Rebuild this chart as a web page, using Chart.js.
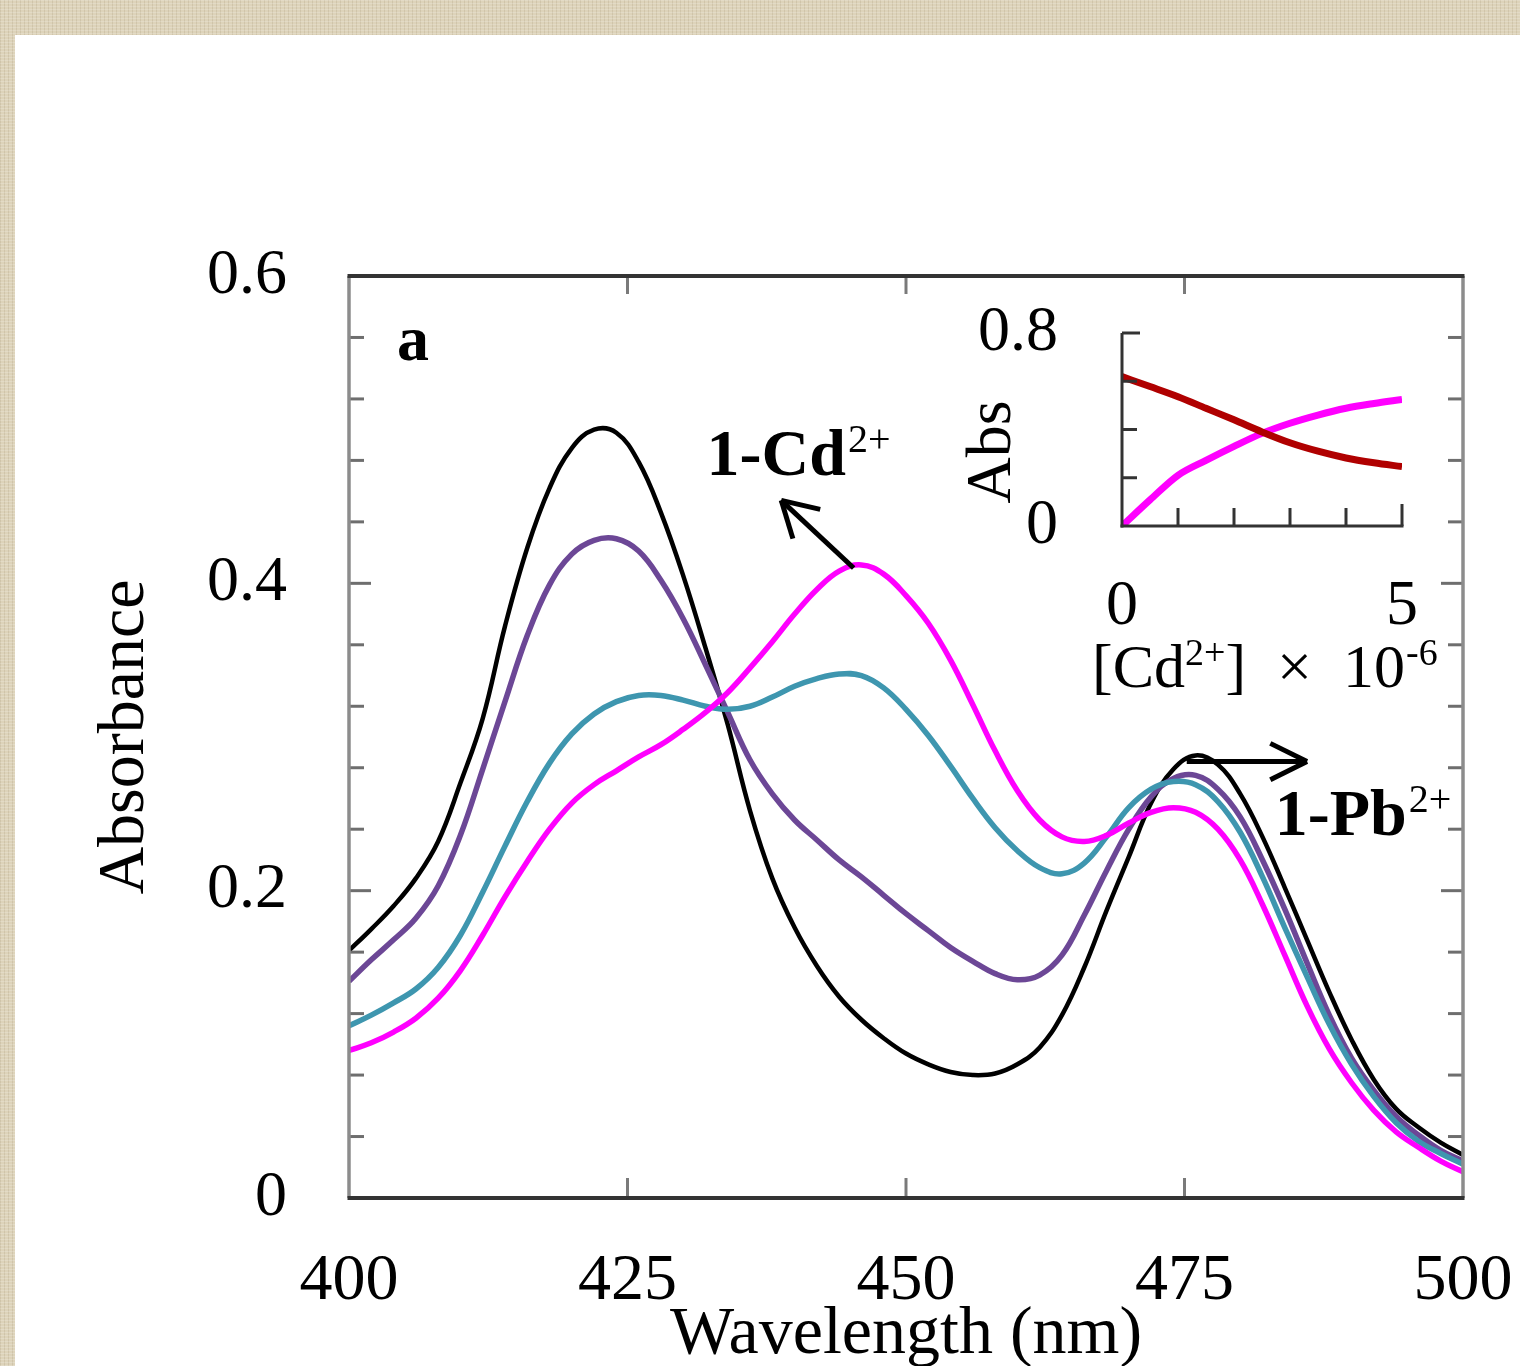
<!DOCTYPE html>
<html>
<head>
<meta charset="utf-8">
<title>Absorbance 1-Cd / 1-Pb</title>
<script src="https://cdn.jsdelivr.net/npm/chart.js@4.4.1/dist/chart.umd.min.js"></script>
<style>
  body {
    margin: 0;
    width: 1520px;
    height: 1366px;
    overflow: hidden;
    position: relative;
    background-color: #ddd3ba;
    background-image:
      repeating-linear-gradient(0deg, rgba(255,255,255,0.18) 0 1px, transparent 1px 3px),
      repeating-linear-gradient(90deg, rgba(120,100,60,0.13) 0 1px, transparent 1px 4px);
  }
  #panel { position: absolute; left: 15px; top: 35px; right: 0; bottom: 0; background: #fff; }
  #main { position: absolute; left: 0; top: 0; }
  #inset { position: absolute; left: 940px; top: 290px; }
</style>
</head>
<body>
<div id="panel"></div>
<canvas id="main" width="1520" height="1400"></canvas>
<canvas id="inset" width="520" height="440"></canvas>
<script>
// DATA - spectra (nm, absorbance)
const wavelength = [400, 402, 404, 406, 408, 410, 412, 414, 416, 418, 420, 422, 424, 426, 428, 430, 432, 434, 436, 438,
  440, 442, 444, 446, 448, 450, 452, 454, 456, 458, 460, 462, 464, 466, 468, 470, 472, 474, 476, 478,
  480, 482, 484, 486, 488, 490, 492, 494, 496, 498, 500];

// free receptor 1 (black)
const absFree = [0.161, 0.175, 0.190, 0.208, 0.232, 0.270, 0.312, 0.372, 0.423, 0.462, 0.488, 0.500, 0.498, 0.479, 0.446, 0.405, 0.358, 0.308, 0.252, 0.208,
  0.176, 0.151, 0.131, 0.116, 0.104, 0.094, 0.087, 0.082, 0.080, 0.081, 0.087, 0.098, 0.119, 0.150, 0.187, 0.222, 0.257, 0.279, 0.288, 0.282,
  0.263, 0.235, 0.202, 0.168, 0.134, 0.103, 0.077, 0.058, 0.046, 0.036, 0.028];
// titration steps
const absStep1 = [0.141, 0.155, 0.168, 0.182, 0.203, 0.236, 0.279, 0.323, 0.366, 0.399, 0.419, 0.428, 0.429, 0.421, 0.402, 0.377, 0.347, 0.316, 0.285, 0.263,
  0.246, 0.233, 0.220, 0.209, 0.197, 0.185, 0.174, 0.163, 0.154, 0.146, 0.142, 0.145, 0.158, 0.184, 0.213, 0.240, 0.261, 0.273, 0.275, 0.266,
  0.248, 0.220, 0.188, 0.153, 0.119, 0.091, 0.070, 0.053, 0.041, 0.031, 0.024];
const absStep2 = [0.112, 0.119, 0.127, 0.136, 0.150, 0.171, 0.199, 0.229, 0.258, 0.283, 0.302, 0.315, 0.323, 0.327, 0.327, 0.324, 0.320, 0.318, 0.320, 0.326,
  0.333, 0.338, 0.341, 0.340, 0.332, 0.318, 0.301, 0.281, 0.260, 0.241, 0.226, 0.215, 0.211, 0.218, 0.235, 0.254, 0.266, 0.271, 0.269, 0.258,
  0.238, 0.209, 0.176, 0.144, 0.113, 0.087, 0.066, 0.049, 0.037, 0.029, 0.022];
// 1-Cd2+ (magenta)
const absCd = [0.096, 0.101, 0.108, 0.117, 0.130, 0.148, 0.171, 0.196, 0.219, 0.240, 0.257, 0.269, 0.278, 0.287, 0.295, 0.305, 0.316, 0.329, 0.345, 0.362,
  0.380, 0.396, 0.408, 0.412, 0.406, 0.392, 0.374, 0.350, 0.321, 0.291, 0.265, 0.246, 0.235, 0.232, 0.236, 0.244, 0.251, 0.254, 0.251, 0.240,
  0.220, 0.191, 0.158, 0.125, 0.097, 0.075, 0.057, 0.043, 0.033, 0.024, 0.017];

const yMajorLabels = ['0', '0.2', '0.4', '0.6'];

// inset: absorbance vs [Cd2+] x 10^-6
const cdConc = [0, 0.5, 1, 1.5, 2, 2.5, 3, 3.5, 4, 4.5, 5];
const insetFall = [0.619, 0.578, 0.536, 0.488, 0.440, 0.390, 0.345, 0.310, 0.282, 0.262, 0.246];
const insetRise = [0.000, 0.108, 0.210, 0.272, 0.330, 0.384, 0.426, 0.460, 0.488, 0.508, 0.525];

const serif = "'Liberation Serif', 'Times New Roman', serif";
Chart.defaults.font.family = serif;
Chart.defaults.color = '#000';

function pts(xs, ys) {
  return xs.map((v, i) => ({ x: v, y: ys[i] }));
}

function line(ctx, x0, y0, x1, y1) {
  ctx.beginPath();
  ctx.moveTo(x0, y0);
  ctx.lineTo(x1, y1);
  ctx.stroke();
}

function arrow(ctx, x0, y0, x1, y1, head, spread) {
  line(ctx, x0, y0, x1, y1);
  const ang = Math.atan2(y1 - y0, x1 - x0);
  [-1, 1].forEach(s => {
    line(ctx, x1, y1, x1 - head * Math.cos(ang + s * spread), y1 - head * Math.sin(ang + s * spread));
  });
}

// text with a superscript tail, e.g. 1-Cd + 2+
function supText(ctx, x, y, base, sup, baseFont, supFont, rise) {
  ctx.font = baseFont;
  ctx.fillText(base, x, y);
  const w = ctx.measureText(base).width;
  ctx.font = supFont;
  ctx.fillText(sup, x + w + 2, y - rise);
}

function isMajor(v) {
  return Math.abs(v * 5 - Math.round(v * 5)) < 1e-6;
}

// pin the scale box size and drop the label overhang padding
function pinWidth(w) {
  return s => { s.width = w; s.paddingTop = 0; s.paddingBottom = 0; s.paddingLeft = 0; s.paddingRight = 0; };
}
function pinHeight(h) {
  return s => { s.height = h; s.paddingTop = 0; s.paddingBottom = 0; s.paddingLeft = 0; s.paddingRight = 0; };
}

// box, inward ticks, labels and arrows for the main panel
const mainDecor = {
  id: 'mainDecor',
  afterDatasetsDraw(chart) {
    const { ctx, chartArea: a, scales: { x, y } } = chart;
    ctx.save();
    ctx.lineCap = 'butt';

    ctx.strokeStyle = '#6e6e6e';
    ctx.lineWidth = 3;
    y.ticks.forEach(t => {
      if (t.value <= 1e-9 || t.value >= 0.6 - 1e-9) return;
      const py = y.getPixelForValue(t.value);
      const len = isMajor(t.value) ? 22 : 15;
      line(ctx, a.left, py, a.left + len, py);
      line(ctx, a.right, py, a.right - len, py);
    });
    ctx.strokeStyle = '#7a7a7a';
    x.ticks.forEach(t => {
      if (t.value <= 400 || t.value >= 500) return;
      const px = x.getPixelForValue(t.value);
      line(ctx, px, a.bottom, px, a.bottom - 20);
      line(ctx, px, a.top, px, a.top + 18);
    });

    ctx.strokeStyle = '#8c8c8c';
    ctx.lineWidth = 3.5;
    line(ctx, a.left, a.top, a.left, a.bottom);
    line(ctx, a.right, a.top, a.right, a.bottom);
    ctx.strokeStyle = '#333';
    ctx.lineWidth = 4;
    line(ctx, a.left - 1.5, a.top, a.right + 1.5, a.top);
    line(ctx, a.left - 1.5, a.bottom, a.right + 1.5, a.bottom);

    // arrows
    ctx.strokeStyle = '#000';
    ctx.lineWidth = 5;
    arrow(ctx, x.getPixelForValue(445.3), y.getPixelForValue(0.410),
      x.getPixelForValue(438.8), y.getPixelForValue(0.454), 40, Math.PI / 6);
    arrow(ctx, x.getPixelForValue(475.2), y.getPixelForValue(0.284),
      x.getPixelForValue(486.0), y.getPixelForValue(0.284), 41, 0.46);

    // labels
    ctx.fillStyle = '#000';
    ctx.textAlign = 'left';
    ctx.textBaseline = 'alphabetic';
    ctx.font = 'bold 64px ' + serif;
    ctx.fillText('a', a.left + 48, a.top + 84);
    supText(ctx, x.getPixelForValue(432.1), y.getPixelForValue(0.4705), '1-Cd', '2+',
      'bold 66px ' + serif, '40px ' + serif, 23);
    supText(ctx, x.getPixelForValue(483.1), y.getPixelForValue(0.2362), '1-Pb', '2+',
      'bold 66px ' + serif, '40px ' + serif, 23);
    ctx.restore();
  }
};

const insetDecor = {
  id: 'insetDecor',
  afterDatasetsDraw(chart) {
    const { ctx, chartArea: a, scales: { x, y } } = chart;
    ctx.save();
    ctx.strokeStyle = '#333';
    ctx.lineWidth = 3;
    line(ctx, a.left, a.top, a.left, a.bottom + 1.5);
    line(ctx, a.left - 1.5, a.bottom, a.right + 1.5, a.bottom);
    y.ticks.forEach(t => {
      if (t.value <= 1e-9) return;
      const py = y.getPixelForValue(t.value);
      line(ctx, a.left, py, a.left + (t.value > 0.79 ? 18 : 15), py);
    });
    x.ticks.forEach(t => {
      if (t.value <= 0) return;
      const px = x.getPixelForValue(t.value);
      line(ctx, px, a.bottom, px, a.bottom - (t.value >= 5 ? 22 : 18));
    });

    ctx.fillStyle = '#000';
    ctx.textBaseline = 'alphabetic';
    // y title
    ctx.save();
    ctx.translate(a.left - 112, a.top + 119);
    ctx.rotate(-Math.PI / 2);
    ctx.textAlign = 'center';
    ctx.font = '64px ' + serif;
    ctx.fillText('Abs', 0, 0);
    ctx.restore();

    // x title: [Cd2+] x 10-6
    ctx.textAlign = 'left';
    const bx = a.left - 30, by = a.bottom + 161;
    const big = '62px ' + serif, small = '38px ' + serif;
    ctx.font = big;
    ctx.fillText('[Cd', bx, by);
    let cx = bx + ctx.measureText('[Cd').width;
    ctx.font = small;
    ctx.fillText('2+', cx, by - 22);
    cx += ctx.measureText('2+').width;
    ctx.font = big;
    ctx.fillText(']  \u00d7  10', cx, by);
    cx += ctx.measureText(']  \u00d7  10').width;
    ctx.font = small;
    ctx.fillText('-6', cx + 1, by - 22);
    ctx.restore();
  }
};

new Chart(document.getElementById('main'), {
  type: 'line',
  data: {
    datasets: [
      { label: '1', data: pts(wavelength, absFree), borderColor: '#000000', borderWidth: 4.5, order: 4 },
      { label: 'step 1', data: pts(wavelength, absStep1), borderColor: '#6c4796', borderWidth: 5.5, order: 3 },
      { label: 'step 2', data: pts(wavelength, absStep2), borderColor: '#3e96af', borderWidth: 5.5, order: 2 },
      { label: '1-Cd2+', data: pts(wavelength, absCd), borderColor: '#ff00ff', borderWidth: 5.5, order: 1 }
    ]
  },
  options: {
    responsive: false,
    animation: false,
    layout: { padding: { left: 0, top: 276, right: 57, bottom: 0 } },
    elements: {
      point: { radius: 0 },
      line: { tension: 0.4, fill: false }
    },
    plugins: { legend: { display: false }, tooltip: { enabled: false } },
    scales: {
      x: {
        type: 'linear',
        min: 400,
        max: 500,
        grid: { display: false, drawTicks: false },
        border: { display: false },
        ticks: { stepSize: 25, padding: 44, autoSkip: false, maxRotation: 0, font: { size: 66 }, color: '#000' },
        title: { display: true, text: 'Wavelength (nm)', font: { size: 68 }, color: '#000', padding: { top: 0, bottom: 24 } },
        afterFit: pinHeight(202)
      },
      y: {
        min: 0,
        max: 0.6,
        grid: { display: false, drawTicks: false },
        border: { display: false },
        ticks: {
          stepSize: 0.04,
          autoSkip: false,
          padding: 62,
          font: { size: 64 },
          color: '#000',
          callback: v => isMajor(v) ? yMajorLabels[Math.round(v * 5)] : ''
        },
        title: { display: true, text: 'Absorbance', font: { size: 66 }, color: '#000', padding: { top: 86, bottom: 0 } },
        afterFit: pinWidth(349)
      }
    }
  },
  plugins: [mainDecor]
});

new Chart(document.getElementById('inset'), {
  type: 'line',
  data: {
    datasets: [
      { label: 'fall', data: pts(cdConc, insetFall), borderColor: '#b00000', borderWidth: 7 },
      { label: 'rise', data: pts(cdConc, insetRise), borderColor: '#ff00ff', borderWidth: 7 }
    ]
  },
  options: {
    responsive: false,
    animation: false,
    layout: { padding: { left: 0, top: 43, right: 58, bottom: 0 } },
    elements: {
      point: { radius: 0 },
      line: { cubicInterpolationMode: 'monotone', fill: false, borderCapStyle: 'butt' }
    },
    plugins: { legend: { display: false }, tooltip: { enabled: false } },
    scales: {
      x: {
        type: 'linear',
        min: 0,
        max: 5,
        grid: { display: false, drawTicks: false },
        border: { display: false },
        ticks: {
          stepSize: 1, padding: 43, autoSkip: false, maxRotation: 0, font: { size: 64 }, color: '#000',
          callback: v => (v === 0 || v === 5) ? String(v) : ''
        },
        afterFit: pinHeight(204)
      },
      y: {
        min: 0,
        max: 0.8,
        grid: { display: false, drawTicks: false },
        border: { display: false },
        ticks: {
          stepSize: 0.2, padding: 64, autoSkip: false, font: { size: 64 }, color: '#000',
          callback: v => v < 1e-9 ? '0' : (Math.abs(v - 0.8) < 1e-9 ? '0.8' : '')
        },
        afterFit: pinWidth(182)
      }
    }
  },
  plugins: [insetDecor]
});
</script>
</body>
</html>
